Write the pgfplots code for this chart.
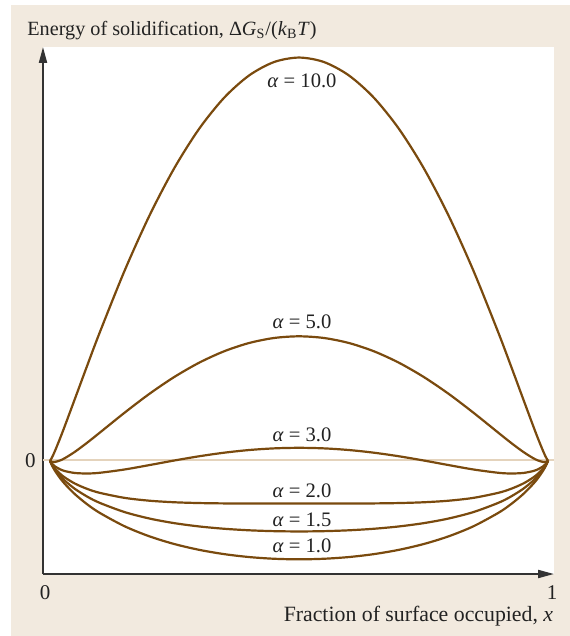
\documentclass[border=0pt]{standalone}
\usepackage{fontspec}
\setmainfont{Liberation Serif}
\usepackage{pgfplots}
\pgfplotsset{compat=1.18}
\usepackage{pgfplotstable}
\usetikzlibrary{arrows.meta}

\definecolor{panelbg}{HTML}{F2EADF}
\definecolor{curvebrown}{HTML}{7A4A0E}
\definecolor{zeroline}{HTML}{E4D3BC}
\definecolor{axisgray}{HTML}{333333}
\definecolor{textgray}{HTML}{222222}

% Delta G_S/(k_B T) = alpha x(1-x) + x ln x + (1-x) ln(1-x)
\pgfplotstableread{
x     a1       a15      a2       a3       a5       a10
0      0        0        0        0        0        0
0.001 -0.00691 -0.00641 -0.00591 -0.00491 -0.00291  0.00208
0.005 -0.02650 -0.02402 -0.02153 -0.01655 -0.00660  0.01827
0.01  -0.04610 -0.04115 -0.03620 -0.02630 -0.00650  0.04300
0.02  -0.07844 -0.06864 -0.05884 -0.03924 -0.00004  0.09796
0.03  -0.10564 -0.09109 -0.07654 -0.04744  0.01076  0.15626
0.05  -0.15102 -0.12727 -0.10352 -0.05602  0.03898  0.27648
0.075 -0.19701 -0.16232 -0.12763 -0.05826  0.08049  0.42737
0.1   -0.23508 -0.19008 -0.14508 -0.05508  0.12492  0.57492
0.15  -0.29521 -0.23146 -0.16771 -0.04021  0.21479  0.85229
0.2   -0.34040 -0.26040 -0.18040 -0.02040  0.29960  1.09960
0.25  -0.37484 -0.28109 -0.18734  0.00016  0.37516  1.31266
0.3   -0.40086 -0.29586 -0.19086  0.01914  0.43914  1.48914
0.35  -0.41995 -0.30620 -0.19245  0.03505  0.49005  1.62755
0.4   -0.43301 -0.31301 -0.19301  0.04699  0.52699  1.72699
0.45  -0.44064 -0.31689 -0.19314  0.05436  0.54936  1.78686
0.5   -0.44315 -0.31815 -0.19315  0.05685  0.55685  1.80685
0.55  -0.44064 -0.31689 -0.19314  0.05436  0.54936  1.78686
0.6   -0.43301 -0.31301 -0.19301  0.04699  0.52699  1.72699
0.65  -0.41995 -0.30620 -0.19245  0.03505  0.49005  1.62755
0.7   -0.40086 -0.29586 -0.19086  0.01914  0.43914  1.48914
0.75  -0.37484 -0.28109 -0.18734  0.00016  0.37516  1.31266
0.8   -0.34040 -0.26040 -0.18040 -0.02040  0.29960  1.09960
0.85  -0.29521 -0.23146 -0.16771 -0.04021  0.21479  0.85229
0.9   -0.23508 -0.19008 -0.14508 -0.05508  0.12492  0.57492
0.925 -0.19701 -0.16232 -0.12763 -0.05826  0.08049  0.42737
0.95  -0.15102 -0.12727 -0.10352 -0.05602  0.03898  0.27648
0.97  -0.10564 -0.09109 -0.07654 -0.04744  0.01076  0.15626
0.98  -0.07844 -0.06864 -0.05884 -0.03924 -0.00004  0.09796
0.99  -0.04610 -0.04115 -0.03620 -0.02630 -0.00650  0.04300
0.995 -0.02650 -0.02402 -0.02153 -0.01655 -0.00660  0.01827
0.999 -0.00691 -0.00641 -0.00591 -0.00491 -0.00291  0.00208
1      0        0        0        0        0        0
}\energy

\begin{document}
\begin{tikzpicture}[x=0.5bp,y=0.5bp]
  \path[use as bounding box] (0,0) rectangle (570,636);
  \fill[panelbg] (11,0) rectangle (570,631);
  \fill[white] (43,62) rectangle (554,589);

  \node[anchor=base west, inner sep=0pt, text=textgray, font=\fontsize{10.1bp}{12bp}\selectfont]
    at (27,600) {Energy of solidification, Δ\textit{G}\textsubscript{S}/(\textit{k}\textsubscript{B}\textit{T})};
  \node[anchor=base east, inner sep=0pt, text=textgray, font=\fontsize{10.9bp}{13bp}\selectfont]
    at (553.5,14.3) {Fraction of surface occupied, \textit{x}};

  \begin{axis}[
    at={(21.5bp,31bp)}, anchor=south west,
    scale only axis, width=255.5bp, height=263.5bp,
    xmin=-0.01406, xmax=1.01205,
    ymin=-0.50897, ymax=1.8543,
    axis lines=left,
    axis line style={draw=axisgray, line width=1bp, -{Triangle[length=8bp,width=4bp]}},
    xtick={-0.01,1.008}, xticklabels={0,1},
    ytick={0}, yticklabels={0},
    major tick length=0pt, tick style={draw=none},
    tick label style={font=\fontsize{10.5bp}{12bp}\selectfont, text=textgray, inner sep=0pt},
    xticklabel style={anchor=north, yshift=-5.5bp},
    yticklabel style={anchor=east, xshift=-3.5bp},
    clip=false,
    energycurve/.style={draw=curvebrown, line width=1.1bp, smooth, mark=none},
  ]
    \addplot[draw=zeroline, line width=1bp, sharp plot, mark=none] coordinates {(-0.01406,0) (1.01205,0)};
    \addplot[energycurve] table[x=x, y=a10] {\energy};
    \addplot[energycurve] table[x=x, y=a5]  {\energy};
    \addplot[energycurve] table[x=x, y=a3]  {\energy};
    \addplot[energycurve] table[x=x, y=a2]  {\energy};
    \addplot[energycurve] table[x=x, y=a15] {\energy};
    \addplot[energycurve] table[x=x, y=a1]  {\energy};

    \begin{scope}[every node/.style={inner sep=0pt, text=textgray, font=\fontsize{10.3bp}{12bp}\selectfont}]
      \node at (axis cs:0.506,1.7018)  {\textit{α} = 10.0};
      \node at (axis cs:0.506,0.6233)  {\textit{α} = 5.0};
      \node at (axis cs:0.506,0.1143)  {\textit{α} = 3.0};
      \node at (axis cs:0.506,-0.1345) {\textit{α} = 2.0};
      \node at (axis cs:0.506,-0.2646) {\textit{α} = 1.5};
      \node at (axis cs:0.506,-0.3834) {\textit{α} = 1.0};
    \end{scope}
  \end{axis}
\end{tikzpicture}
\end{document}
